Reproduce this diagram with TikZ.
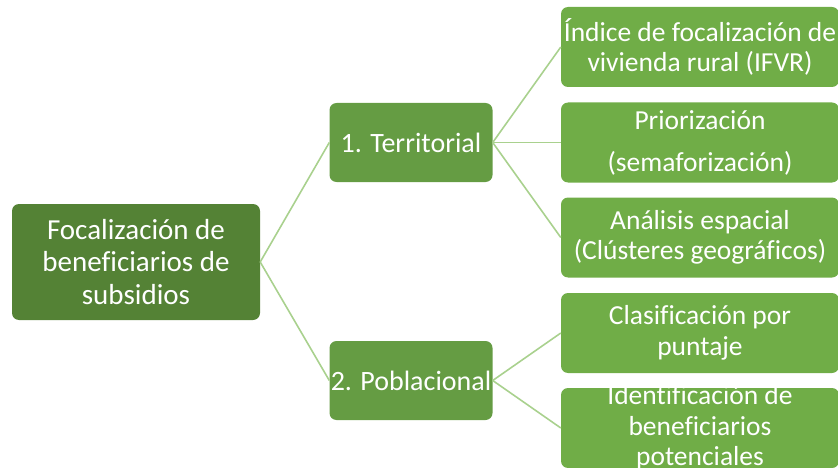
\documentclass[tikz,border=0pt]{standalone}
\usepackage{fontspec}
\setmainfont{Carlito}[Ligatures={NoCommon}]
\usetikzlibrary{positioning}
\definecolor{darkgreen}{HTML}{548235}
\definecolor{midgreen}{HTML}{659C43}
\definecolor{lightgreen}{HTML}{70AD47}
\definecolor{linkgreen}{HTML}{A9D18E}

\begin{document}
\begin{tikzpicture}[x=1pt,y=-1pt,
  box/.style={rounded corners=7pt, inner sep=0pt},
  rootbox/.style={box, fill=darkgreen, minimum width=248pt, minimum height=116pt},
  mainbox/.style={box, fill=midgreen, minimum width=163pt, minimum height=79pt},
  subbox/.style={box, fill=lightgreen, minimum width=278pt, minimum height=80pt},
  txt/.style={text=white, align=center, inner sep=0pt, font=\fontsize{27.5}{30.5}\selectfont},
  link/.style={draw=linkgreen, line width=1.6pt}]
\useasboundingbox (0,0) rectangle (838,468);
\clip (0,0) rectangle (838,468);

\node[rootbox] (root) at (136,262) {};
\node[mainbox] (terr) at (411,142.5) {};
\node[mainbox] (pobl) at (411,380.5) {};
\node[subbox] (ifvr) at (700,47) {};
\node[subbox] (prio) at (700,142.5) {};
\node[subbox] (anal) at (700,237.5) {};
\node[subbox] (clas) at (700,333) {};
\node[subbox] (iden) at (700,428) {};

\draw[link] (root.east) -- (terr.west);
\draw[link] (root.east) -- (pobl.west);
\draw[link] (terr.east) -- (ifvr.west);
\draw[link] (terr.east) -- (prio.west);
\draw[link] (terr.east) -- (anal.west);
\draw[link] (pobl.east) -- (clas.west);
\draw[link] (pobl.east) -- (iden.west);

\node[txt, font=\fontsize{29}{32.5}\selectfont] at (root) {Focalización de\\beneficiarios de\\subsidios};
\node[txt, font=\fontsize{28}{31}\selectfont] at (terr) {1. Territorial};
\node[txt, font=\fontsize{28}{31}\selectfont] at (pobl) {2. Poblacional};
\node[txt] at (ifvr) {Índice de focalización de\\vivienda rural (IFVR)};
\node[txt, font=\fontsize{27.5}{42}\selectfont] at (prio) {Priorización\\(semaforización)};
\node[txt] at (anal) {Análisis espacial\\(Clústeres geográficos)};
\node[txt] at (clas) {Clasificación por\\puntaje};
\node[txt] at (iden) {Identificación de\\beneficiarios\\potenciales};
\end{tikzpicture}
\end{document}
